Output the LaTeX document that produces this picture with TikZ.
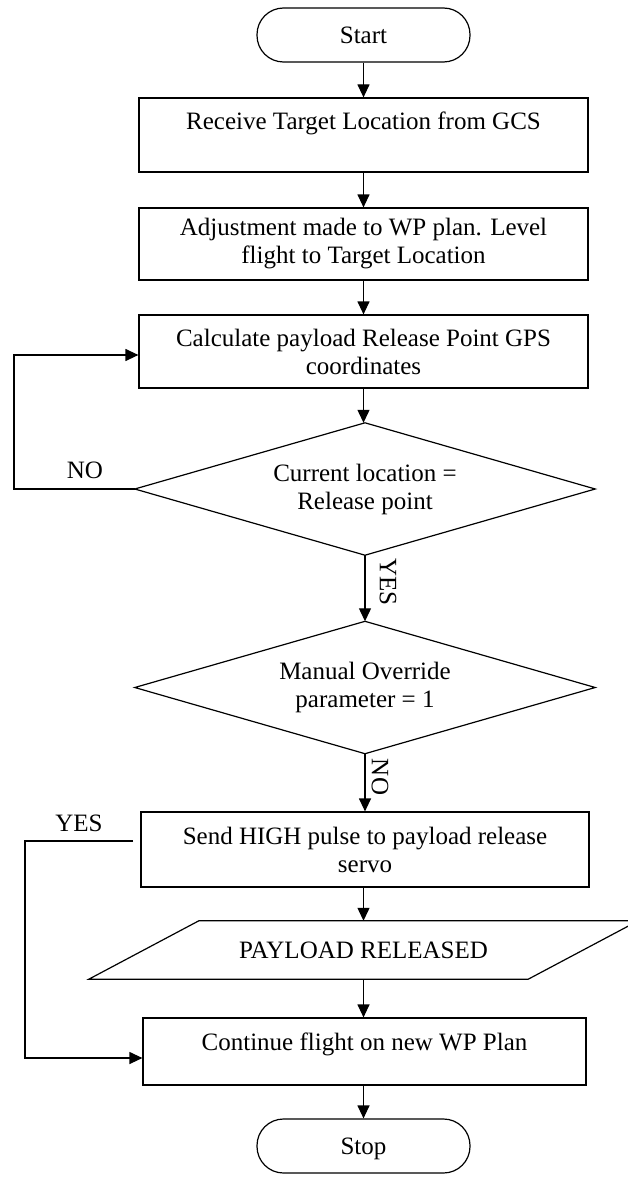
\documentclass[tikz,border=0pt]{standalone}
\usepackage{fontspec}
\setmainfont{Liberation Serif}
\usetikzlibrary{shapes.geometric,arrows.meta}
\begin{document}
\begin{tikzpicture}[x=1pt,y=-1pt,
  every node/.style={font=\fontsize{25}{28}\selectfont, align=center, inner sep=0pt},
  conn/.style={line width=1.2pt},
  arr/.style={line width=1.2pt,-{Triangle[length=13pt,width=12pt]}},
  boxnode/.style={draw, line width=1.2pt, rectangle, minimum width=449pt},
  term/.style={draw, line width=1.2pt, rectangle, rounded corners=26.5pt, minimum width=213pt, minimum height=54pt},
  dec/.style={rectangle, minimum width=460pt, minimum height=132pt}]
\useasboundingbox (0,0) rectangle (627,1180);

\node[term, text depth=0pt] (start) at (363.5,35) {Start};
\node[boxnode, minimum height=74pt, text height=17pt, text depth=29pt] (b1) at (363.5,135) {Receive Target Location from GCS};
\node[boxnode, minimum height=72pt] (b2) at (363.5,244) {Adjustment made to WP plan. Level\\flight to Target Location};
\node[boxnode, minimum height=73pt] (b3) at (363.5,351.5) {Calculate payload Release Point GPS\\coordinates};
\node[dec] (d1) at (365,489) {Current location =\\Release point};
\draw[conn] (d1.north) -- (d1.east) -- (d1.south) -- (d1.west) -- cycle;
\node[dec] (d2) at (365,687.5) {Manual Override\\parameter = 1};
\draw[conn] (d2.north) -- (d2.east) -- (d2.south) -- (d2.west) -- cycle;
\node[boxnode, minimum width=448pt, minimum height=75pt] (b4) at (365,849.5) {Send HIGH pulse to payload release\\servo};
\node[minimum width=439pt, minimum height=58pt] (pl) at (363.5,950) {PAYLOAD RELEASED};
\draw[conn] ([xshift=55pt]pl.north west) -- ([xshift=55pt]pl.north east) -- ([xshift=-55pt]pl.south east) -- ([xshift=-55pt]pl.south west) -- cycle;
\node[boxnode, minimum width=443pt, minimum height=67pt, text height=17pt, text depth=20pt] (b5) at (364.5,1051.5) {Continue flight on new WP Plan};
\node[term, text depth=0pt] (stop) at (363.5,1146) {Stop};

\draw[arr] (start) -- (b1);
\draw[arr] (b1) -- (b2);
\draw[arr] (b2) -- (b3);
\draw[arr] (b3.south) -- (b3.south |- d1.north);
\draw[arr] (d1.south) -- (d2.north);
\node[rotate=-90] (yes1) at (388,582) {YES};
\draw[arr] (d2.south) -- (b4.north -| d2.south);
\node[rotate=-90] (no1) at (380,777) {NO};
\draw[arr] (b4.south -| pl.north) -- (pl.north);
\draw[arr] (pl.south) -- (pl.south |- b5.north);
\draw[arr] (b5.south -| stop.north) -- (stop.north);

% NO loop
\coordinate (n1) at (14,489);
\coordinate (n2) at (14,355);
\draw[arr] (d1.west) -- (n1) -- (n2) -- (n2 -| b3.west);
\node (nolbl) at (85,470) {NO};

% YES bypass
\coordinate (ys) at (133,841);
\coordinate (y1) at (25,841);
\coordinate (y2) at (25,1058);
\draw[arr] (ys) -- (y1) -- (y2) -- (y2 -| b5.west);
\node (yeslbl) at (79,823) {YES};
\end{tikzpicture}
\end{document}
